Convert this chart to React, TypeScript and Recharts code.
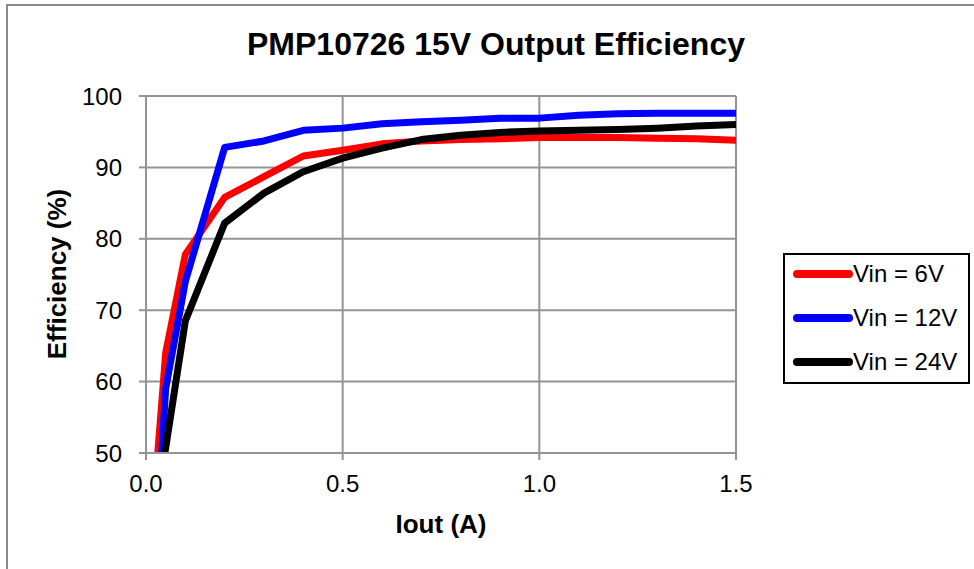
import React from "react";
import { LineChart, Line, XAxis, YAxis, CartesianGrid } from "recharts";

const iout6 = [0.03, 0.05, 0.1, 0.2, 0.3, 0.4, 0.5, 0.6, 0.7, 0.8, 0.9, 1.0, 1.1, 1.2, 1.3, 1.4, 1.5];
const eff6 = [50, 64, 77.8, 85.8, 88.7, 91.6, 92.4, 93.3, 93.7, 93.9, 94.0, 94.2, 94.2, 94.2, 94.1, 94.0, 93.8];

const iout12 = [0.04, 0.05, 0.1, 0.2, 0.3, 0.4, 0.5, 0.6, 0.7, 0.8, 0.9, 1.0, 1.1, 1.2, 1.3, 1.4, 1.5];
const eff12 = [50, 59, 74, 92.8, 93.7, 95.2, 95.5, 96.1, 96.4, 96.6, 96.9, 96.9, 97.3, 97.5, 97.6, 97.6, 97.6];

const iout24 = [0.048, 0.1, 0.2, 0.3, 0.4, 0.5, 0.6, 0.7, 0.8, 0.9, 1.0, 1.1, 1.2, 1.3, 1.4, 1.5];
const eff24 = [50, 68.5, 82.2, 86.4, 89.4, 91.3, 92.7, 93.9, 94.5, 94.9, 95.1, 95.2, 95.3, 95.5, 95.8, 96.0];

const xTicks = [0, 0.5, 1.0, 1.5];
const yTicks = [50, 60, 70, 80, 90, 100];

const seriesNames = ["Vin = 6V", "Vin = 12V", "Vin = 24V"];
const seriesColors = ["#ff0000", "#0000ff", "#000000"];

const title = "PMP10726 15V Output Efficiency";
const xLabel = "Iout (A)";
const yLabel = "Efficiency (%)";

const toPoints = (xs: number[], ys: number[]) => xs.map((x, i) => ({ x, y: ys[i] }));

const seriesData = [toPoints(iout6, eff6), toPoints(iout12, eff12), toPoints(iout24, eff24)];

const FONT = '"Liberation Sans", Arial, sans-serif';
const GRID = "#949494";

const LegendBox = () => (
  <div
    style={{
      position: "absolute",
      left: 783,
      top: 253,
      width: 187,
      height: 131,
      border: "2px solid #000",
      boxSizing: "border-box",
      background: "#fff",
      fontFamily: FONT,
      fontSize: 24,
      color: "#000",
    }}
  >
    {seriesNames.map((name, i) => (
      <div key={name} style={{ position: "absolute", left: 0, top: 19 + i * 44, height: 0 }}>
        <svg width={70} height={10} style={{ position: "absolute", left: 0, top: -5 }}>
          <line x1={12} y1={5} x2={64} y2={5} stroke={seriesColors[i]} strokeWidth={8} strokeLinecap="round" />
        </svg>
        <span style={{ position: "absolute", left: 68, top: -14, lineHeight: "28px", whiteSpace: "nowrap" }}>{name}</span>
      </div>
    ))}
  </div>
);

export default function App() {
  return (
    <div style={{ position: "absolute", left: 0, top: 0, width: 974, height: 569, overflow: "hidden", background: "#fff" }}>
      <div
        style={{
          position: "absolute",
          left: 6,
          top: 4,
          width: 1100,
          height: 700,
          border: "2px solid #8a8a8a",
        }}
      />
      <div style={{ position: "absolute", left: 0, top: 0 }}>
        <LineChart
          width={974}
          height={569}
          margin={{ top: 96, right: 238, bottom: 86, left: 66 }}
          style={{ fontFamily: FONT }}
        >
          <CartesianGrid stroke={GRID} strokeWidth={2} horizontal vertical />
          <XAxis
            dataKey="x"
            type="number"
            domain={[0, 1.5]}
            ticks={xTicks}
            tickFormatter={(v: number) => v.toFixed(1)}
            allowDataOverflow
            height={30}
            tickSize={7}
            tickMargin={15}
            axisLine={{ stroke: GRID, strokeWidth: 2 }}
            tickLine={{ stroke: GRID, strokeWidth: 2 }}
            tick={{ fill: "#000", fontSize: 24, fontFamily: FONT }}
          />
          <YAxis
            dataKey="y"
            type="number"
            domain={[50, 100]}
            ticks={yTicks}
            allowDataOverflow
            width={80}
            tickSize={7}
            tickMargin={17}
            axisLine={{ stroke: GRID, strokeWidth: 2 }}
            tickLine={{ stroke: GRID, strokeWidth: 2 }}
            tick={{ fill: "#000", fontSize: 24, fontFamily: FONT }}
          />
          {seriesData.map((d, i) => (
            <Line
              key={seriesNames[i]}
              data={d}
              dataKey="y"
              name={seriesNames[i]}
              type="linear"
              stroke={seriesColors[i]}
              strokeWidth={7}
              dot={false}
              activeDot={false}
              isAnimationActive={false}
              strokeLinejoin="round"
            />
          ))}
        </LineChart>
      </div>
      <LegendBox />
      <svg
        width={974}
        height={569}
        style={{ position: "absolute", left: 0, top: 0, pointerEvents: "none" }}
        fontFamily={FONT}
      >
        <text x={496} y={55} textAnchor="middle" fontSize={32} fontWeight="bold" fill="#000">
          {title}
        </text>
        <text x={441} y={533} textAnchor="middle" fontSize={26} fontWeight="bold" fill="#000">
          {xLabel}
        </text>
        <text
          x={0}
          y={0}
          transform="translate(66,274) rotate(-90)"
          textAnchor="middle"
          fontSize={26}
          fontWeight="bold"
          fill="#000"
        >
          {yLabel}
        </text>
      </svg>
    </div>
  );
}
